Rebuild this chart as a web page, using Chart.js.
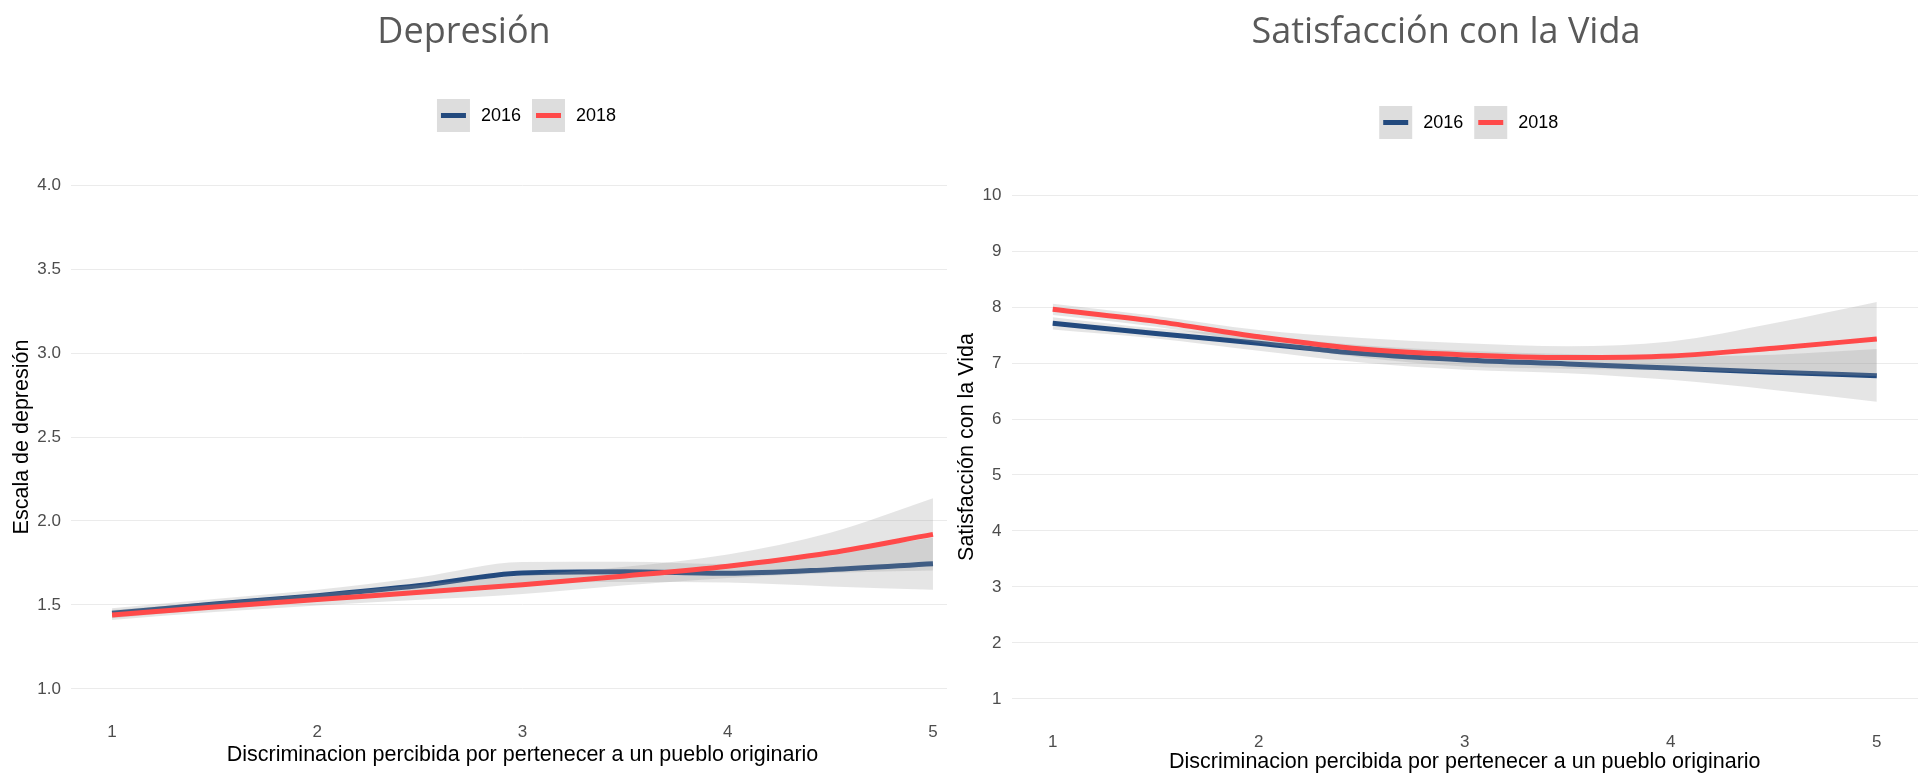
<!DOCTYPE html>
<html lang="es">
<head>
<meta charset="utf-8">
<title>Depresión y Satisfacción con la Vida</title>
<script src="https://cdn.jsdelivr.net/npm/chart.js@4.4.1/dist/chart.umd.min.js"></script>
<style>
  html, body { margin: 0; padding: 0; background: #fff; }
  #wrap { position: relative; width: 1925px; height: 775px; overflow: hidden; }
  #chartDep { position: absolute; left: 0; top: 0; }
  #chartSat { position: absolute; left: 947px; top: 0; background: #fff; }
</style>
</head>
<body>
<div id="wrap">
  <canvas id="chartDep" width="974" height="775"></canvas>
  <canvas id="chartSat" width="978" height="775"></canvas>
</div>
<script>
const xValues = [1, 1.5, 2, 2.5, 3, 3.5, 4, 4.5, 5];
const xTicks = [1, 2, 3, 4, 5];

// Depresión
const dep2016 = [1.45, 1.505, 1.555, 1.615, 1.69, 1.697, 1.688, 1.71, 1.745];
const dep2016Upper = [1.48, 1.535, 1.59, 1.665, 1.755, 1.757, 1.743, 1.81, 1.9];
const dep2016Lower = [1.42, 1.475, 1.52, 1.565, 1.625, 1.637, 1.633, 1.61, 1.59];
const dep2018 = [1.44, 1.487, 1.532, 1.575, 1.62, 1.672, 1.73, 1.81, 1.92];
const dep2018Upper = [1.47, 1.517, 1.567, 1.62, 1.675, 1.727, 1.8, 1.93, 2.135];
const dep2018Lower = [1.41, 1.457, 1.497, 1.53, 1.565, 1.617, 1.66, 1.69, 1.705];
const depTicks = [1.0, 1.5, 2.0, 2.5, 3.0, 3.5, 4.0];

// Satisfacción con la Vida
const sat2016 = [7.71, 7.53, 7.355, 7.17, 7.056, 6.985, 6.91, 6.835, 6.775];
const sat2016Upper = [7.82, 7.62, 7.48, 7.32, 7.22, 7.16, 7.12, 7.15, 7.25];
const sat2016Lower = [7.6, 7.44, 7.22, 7.01, 6.88, 6.82, 6.7, 6.52, 6.31];
const sat2018 = [7.96, 7.745, 7.47, 7.25, 7.146, 7.1, 7.128, 7.265, 7.43];
const sat2018Upper = [8.06, 7.84, 7.59, 7.45, 7.355, 7.3, 7.385, 7.71, 8.09];
const sat2018Lower = [7.86, 7.65, 7.36, 7.1, 6.94, 6.9, 6.87, 6.82, 6.77];
const satTicks = [1, 2, 3, 4, 5, 6, 7, 8, 9, 10];

const COLOR_2016 = "#234A7E";
const COLOR_2018 = "#FF4A4A";
const BAND = "rgba(153, 153, 153, 0.25)";
const AXIS_FONT = "Liberation Sans";
const X_TITLE = "Discriminacion percibida por pertenecer a un pueblo originario";

function points(ys) {
    return xValues.map((x, i) => ({ x: x, y: ys[i] }));
}

function band(upper, lower, order) {
    const common = {
        borderWidth: 0,
        pointRadius: 0,
        order: order,
        cubicInterpolationMode: "monotone",
    };
    return [
        Object.assign({ data: points(upper), fill: "+1", backgroundColor: BAND }, common),
        Object.assign({ data: points(lower), fill: false }, common),
    ];
}

function line(label, ys, color, order) {
    return {
        label: label,
        data: points(ys),
        borderColor: color,
        backgroundColor: color,
        borderWidth: 5,
        pointRadius: 0,
        fill: false,
        order: order,
        cubicInterpolationMode: "monotone",
    };
}

// title + ggplot-style legend (grey key box with a line in it)
const headerPlugin = {
    id: "header",
    afterDraw(chart, args, opts) {
        const ctx = chart.ctx;
        ctx.save();
        ctx.fillStyle = "#595959";
        ctx.font = "36px 'Open Sans'";
        ctx.textAlign = "center";
        ctx.textBaseline = "alphabetic";
        ctx.fillText(opts.text, opts.titleX, 43);

        const items = chart.data.datasets.filter((d) => d.label);
        ctx.font = "18px " + AXIS_FONT;
        const key = 33, gap = 11;
        let total = 0;
        items.forEach((d, i) => {
            total += key + gap + ctx.measureText(d.label).width + (i < items.length - 1 ? gap : 0);
        });
        const area = chart.chartArea;
        let x = (area.left + area.right) / 2 - total / 2 + 4;
        const top = opts.legendY;
        items.forEach((d) => {
            ctx.fillStyle = "#DDDDDD";
            ctx.fillRect(x, top, key, key);
            ctx.strokeStyle = d.borderColor;
            ctx.lineWidth = 5;
            ctx.beginPath();
            ctx.moveTo(x + 4, top + key / 2);
            ctx.lineTo(x + key - 4, top + key / 2);
            ctx.stroke();
            x += key + gap;
            ctx.fillStyle = "#000";
            ctx.textAlign = "left";
            ctx.textBaseline = "middle";
            ctx.fillText(d.label, x, top + key / 2 + 1);
            x += ctx.measureText(d.label).width + gap;
        });
        ctx.restore();
    },
};

function makeChart(id, cfg) {
    return new Chart(document.getElementById(id), {
        type: "line",
        data: {
            datasets: [
                ...band(cfg.upper16, cfg.lower16, 4),
                line("2016", cfg.values16, COLOR_2016, 3),
                ...band(cfg.upper18, cfg.lower18, 2),
                line("2018", cfg.values18, COLOR_2018, 1),
            ],
        },
        plugins: [headerPlugin],
        options: {
            responsive: false,
            animation: false,
            events: [],
            layout: { padding: cfg.padding },
            scales: {
                x: {
                    type: "linear",
                    min: 0.8,
                    max: 5.2,
                    afterBuildTicks: (s) => { s.ticks = xTicks.map((v) => ({ value: v })); },
                    afterFit: (s) => { s.height = cfg.xHeight; },
                    grid: { display: false, drawTicks: false },
                    border: { display: false },
                    ticks: {
                        padding: cfg.xTickPad,
                        color: "#4D4D4D",
                        font: { family: AXIS_FONT, size: 17 },
                    },
                    title: {
                        display: true,
                        text: X_TITLE,
                        color: "#000",
                        font: { family: AXIS_FONT, size: 21.5 },
                        padding: { top: 0, bottom: cfg.xTitlePad },
                    },
                },
                y: {
                    type: "linear",
                    min: cfg.yMin,
                    max: cfg.yMax,
                    afterBuildTicks: (s) => { s.ticks = cfg.yTicks.map((v) => ({ value: v })); },
                    afterFit: (s) => { s.width = cfg.yWidth; },
                    grid: { color: "#EBEBEB", lineWidth: 1, drawTicks: false },
                    border: { display: false },
                    ticks: {
                        padding: 10,
                        color: "#4D4D4D",
                        font: { family: AXIS_FONT, size: 17 },
                        callback: cfg.yFormat,
                    },
                    title: {
                        display: true,
                        text: cfg.yTitle,
                        color: "#000",
                        font: { family: AXIS_FONT, size: 21.5 },
                        padding: { top: cfg.yTitlePad, bottom: 0 },
                    },
                },
            },
            plugins: {
                legend: { display: false },
                tooltip: { enabled: false },
                header: { text: cfg.title, titleX: cfg.titleX, legendY: cfg.legendY },
            },
        },
    });
}

makeChart("chartDep", {
    title: "Depresión",
    titleX: 464,
    legendY: 99,
    yTitle: "Escala de depresión",
    values16: dep2016, upper16: dep2016Upper, lower16: dep2016Lower,
    values18: dep2018, upper18: dep2018Upper, lower18: dep2018Lower,
    yTicks: depTicks,
    yMin: 0.85,
    yMax: 4.15,
    yFormat: (v) => v.toFixed(1),
    padding: { top: 160, right: 0, bottom: 0, left: 0 },
    yWidth: 71,
    yTitlePad: 9,
    xHeight: 61,
    xTickPad: 8,
    xTitlePad: 7,
});

makeChart("chartSat", {
    title: "Satisfacción con la Vida",
    titleX: 499,
    legendY: 106,
    yTitle: "Satisfacción con la Vida",
    values16: sat2016, upper16: sat2016Upper, lower16: sat2016Lower,
    values18: sat2018, upper18: sat2018Upper, lower18: sat2018Lower,
    yTicks: satTicks,
    yMin: 0.55,
    yMax: 10.45,
    yFormat: (v) => String(v),
    padding: { top: 170, right: 7, bottom: 0, left: 0 },
    yWidth: 64.5,
    yTitlePad: 7,
    xHeight: 51,
    xTickPad: 8,
    xTitlePad: 0,
});
</script>
</body>
</html>
